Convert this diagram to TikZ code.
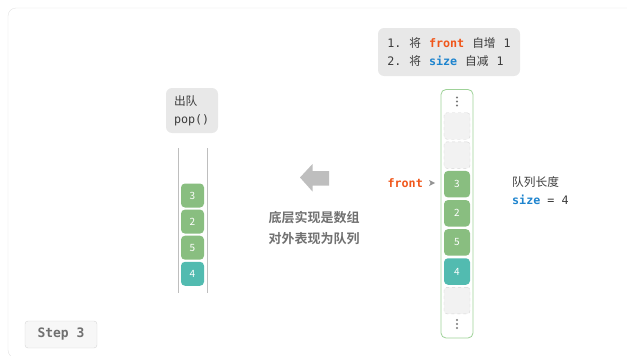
\documentclass[tikz,border=0pt]{standalone}
\usepackage{fontspec}
\usepackage{xcolor}
\usepackage{tikz}
\usetikzlibrary{arrows.meta,positioning,fit,calc}
\setmainfont{Noto Sans CJK SC}[BoldFont={Noto Sans CJK SC Bold}]
\setmonofont{DejaVu Sans Mono}
\newcommand{\cgap}{\hspace{8pt}}
\definecolor{framegray}{RGB}{226, 226, 226}
\definecolor{notegray}{RGB}{232, 232, 232}
\definecolor{textdark}{RGB}{60, 60, 60}
\definecolor{hintgray}{RGB}{112, 112, 112}
\definecolor{frontred}{RGB}{240, 86, 26}
\definecolor{sizeblue}{RGB}{30, 132, 206}
\definecolor{cellgreen}{RGB}{137, 190, 128}
\definecolor{cellteal}{RGB}{82, 187, 176}
\definecolor{arrgreen}{RGB}{158, 210, 152}
\definecolor{emptyfill}{RGB}{242, 242, 242}
\definecolor{emptyline}{RGB}{214, 214, 214}
\definecolor{bigarrow}{RGB}{190, 190, 190}
\definecolor{dotgray}{RGB}{120, 120, 120}
\tikzset{
  notebox/.style={
    fill=notegray,
    rounded corners=6pt,
    align=left,
    text=textdark,
    inner sep=0pt,
    font=\fontsize{11.7}{18}\selectfont
  },
  datacell/.style={
    fill=cellgreen,
    rounded corners=4pt,
    inner sep=0pt,
    text=white,
    font=\fontsize{10}{12}\selectfont
  },
  headcell/.style={
    datacell,
    fill=cellteal
  },
  emptycell/.style={
    draw=emptyline,
    dashed,
    fill=emptyfill,
    rounded corners=3pt,
    inner sep=0pt,
    minimum width=26pt,
    minimum height=26.5pt
  },
  stepbox/.style={
    draw=emptyline,
    fill=emptyfill!60!white,
    rounded corners=3pt,
    text=hintgray,
    font=\ttfamily\bfseries\fontsize{13}{15}\selectfont
  }
}

\begin{document}
\begin{tikzpicture}[x=1pt, y=-1pt]
  \clip (0,0) rectangle (627,356);
  \draw[framegray, rounded corners=8pt] (8,8) rectangle (700,358);

  % note at the top
  \node[notebox, minimum width=142pt, minimum height=48pt] (note) at (449,52)
    {\ttfamily 1.\cgap{\rmfamily 将}\cgap{\bfseries\color{frontred}front}\cgap{\rmfamily 自增}\cgap 1\\
     \ttfamily 2.\cgap{\rmfamily 将}\cgap{\bfseries\color{sizeblue}size}\cgap{\rmfamily 自减}\cgap 1};

  % array seen from below
  \draw[arrgreen, thick, fill=white, rounded corners=5pt] (441,89.5) rectangle (473,338);
  \node[emptycell] (e1) at (457,126) {};
  \node[emptycell, below=2.2pt of e1] (e2) {};
  \node[datacell, minimum width=26pt, minimum height=26.5pt, below=2.2pt of e2] (c3) {3};
  \node[datacell, minimum width=26pt, minimum height=26.5pt, below=2.2pt of c3] (c2) {2};
  \node[datacell, minimum width=26pt, minimum height=26.5pt, below=2.2pt of c2] (c5) {5};
  \node[headcell, minimum width=26pt, minimum height=26.5pt, below=2.2pt of c5] (c4) {4};
  \node[emptycell, below=2.2pt of c4] (e3) {};
  \fill[dotgray] (457,97.5) circle (1.1) (457,101.5) circle (1.1) (457,105.5) circle (1.1);
  \fill[dotgray] (457,320) circle (1.1) (457,324) circle (1.1) (457,328) circle (1.1);

  \node[anchor=east, text=frontred, font=\ttfamily\bfseries\fontsize{11.7}{14}\selectfont, inner sep=0pt] (frontlbl) at (423,183) {front};
  \fill[dotgray!80] (429,180) -- (435,183) -- (429,186) -- (430.5,183) -- cycle;

  \node[anchor=west, align=left, text=textdark, inner sep=0pt, font=\fontsize{11.7}{17.5}\selectfont] (sizelbl) at (512,190.5)
    {队列长度\\{\ttfamily{\bfseries\color{sizeblue}size} = 4}};

  % big arrow and hint
  \fill[bigarrow] (300,177.5) -- (312.5,164) -- (312.5,171) -- (329,171) -- (329,185.5) -- (312.5,185.5) -- (312.5,191.5) -- cycle;
  \node[align=center, text=hintgray, font=\bfseries\fontsize{13}{21}\selectfont] (hint) at (314,228)
    {底层实现是数组\\对外表现为队列};

  % queue seen from outside
  \node[notebox, minimum width=52pt, minimum height=45pt, text width=36pt] (pop) at (192,110.5)
    {出队\\{\ttfamily pop()}};
  \draw[bigarrow, thick] (178,148) -- (178,293);
  \draw[bigarrow, thick] (207,148) -- (207,293);
  \node[datacell, minimum width=23pt, minimum height=24pt] (q3) at (192.5,195.5) {3};
  \node[datacell, minimum width=23pt, minimum height=24pt, below=1.7pt of q3] (q2) {2};
  \node[datacell, minimum width=23pt, minimum height=24pt, below=1.7pt of q2] (q5) {5};
  \node[headcell, minimum width=23pt, minimum height=24pt, below=1.7pt of q5] (q4) {4};

  \node[stepbox, minimum width=72pt, minimum height=27pt] (step) at (61,334.5) {Step 3};
\end{tikzpicture}
\end{document}
